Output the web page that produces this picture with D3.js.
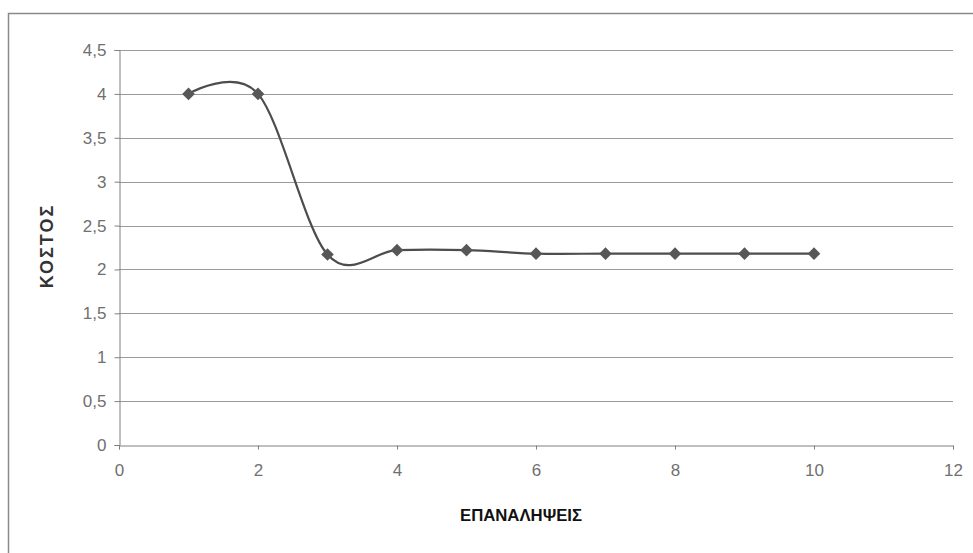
<!DOCTYPE html>
<html>
<head>
<meta charset="utf-8">
<script src="https://cdn.jsdelivr.net/npm/d3@7"></script>
<style>
  body { margin: 0; background: #fff; }
  svg { display: block; font-family: "Liberation Sans", Arial, sans-serif; }
</style>
</head>
<body>
<svg id="chart" width="973" height="553"></svg>
<script>
// iterations and cost values
const iterations = [1, 2, 3, 4, 5, 6, 7, 8, 9, 10];
const costs = [4, 4, 2.17, 2.22, 2.22, 2.18, 2.18, 2.18, 2.18, 2.18];
const xTicks = [0, 2, 4, 6, 8, 10, 12];
const yTicks = [0, 0.5, 1, 1.5, 2, 2.5, 3, 3.5, 4, 4.5];
const xTitle = 'ΕΠΑΝΑΛΗΨΕΙΣ';
const yTitle = 'ΚΟΣΤΟΣ';

const svg = d3.select('#chart');
const plotLeft = 119, plotRight = 953, plotTop = 50, plotBottom = 445;

const x = d3.scaleLinear().domain([0, 12]).range([plotLeft, plotRight]);
const y = d3.scaleLinear().domain([0, 4.5]).range([plotBottom, plotTop]);
const fmt = d => String(d).replace('.', ',');

// outer frame (runs off the right and bottom edge)
svg.append('rect')
    .attr('x', 8.5).attr('y', 13.5)
    .attr('width', 1000).attr('height', 600)
    .attr('fill', 'none').attr('stroke', '#8a8a8a').attr('stroke-width', 1.5);

// horizontal gridlines
svg.append('g')
    .selectAll('line')
    .data(yTicks.filter(d => d > 0))
    .enter().append('line')
    .attr('x1', plotLeft).attr('x2', plotRight)
    .attr('y1', d => Math.round(y(d)) + 0.5).attr('y2', d => Math.round(y(d)) + 0.5)
    .attr('stroke', '#9a9a9a');

// y axis
const yAxis = svg.append('g')
    .attr('transform', `translate(${plotLeft + 0.5},0)`)
    .call(d3.axisLeft(y).tickValues(yTicks).tickFormat(fmt).tickSize(5).tickPadding(8));
yAxis.select('.domain').attr('stroke', '#808080');
yAxis.selectAll('.tick line').attr('stroke', '#808080');
yAxis.selectAll('.tick text')
    .attr('fill', '#707070').attr('font-size', 17).attr('font-family', '"Liberation Sans", Arial, sans-serif');

// x axis
const xAxis = svg.append('g')
    .attr('transform', `translate(0,${plotBottom + 0.5})`)
    .call(d3.axisBottom(x).tickValues(xTicks).tickSize(4).tickPadding(14));
xAxis.select('.domain').attr('stroke', '#808080');
xAxis.selectAll('.tick line').attr('stroke', '#808080');
xAxis.selectAll('.tick text')
    .attr('fill', '#707070').attr('font-size', 17).attr('font-family', '"Liberation Sans", Arial, sans-serif');

// smoothed line like the spreadsheet one
const pts = iterations.map((d, i) => [d, costs[i]]);
const line = d3.line()
    .x(d => x(d[0]))
    .y(d => y(d[1]))
    .curve(d3.curveCardinal.tension(0));

svg.append('path')
    .datum(pts)
    .attr('d', line)
    .attr('fill', 'none')
    .attr('stroke', '#4d4d4d')
    .attr('stroke-width', 2.2);

// diamond markers
const diamond = d3.symbol().type(d3.symbolSquare).size(80);
svg.append('g')
    .selectAll('path')
    .data(pts)
    .enter().append('path')
    .attr('transform', d => `translate(${x(d[0])},${y(d[1])}) rotate(45)`)
    .attr('d', diamond)
    .attr('fill', '#575757');

// axis titles
svg.append('text')
    .attr('x', 521).attr('y', 521)
    .attr('text-anchor', 'middle')
    .attr('font-size', 16).attr('font-weight', 'bold')
    .attr('fill', '#111')
    .attr('textLength', 122).attr('lengthAdjust', 'spacingAndGlyphs')
    .text(xTitle);

svg.append('text')
    .attr('transform', 'translate(53,246) rotate(-90)')
    .attr('text-anchor', 'middle')
    .attr('font-size', 18).attr('font-weight', 'bold')
    .attr('fill', '#333')
    .attr('letter-spacing', 2)
    .text(yTitle);
</script>
</body>
</html>
